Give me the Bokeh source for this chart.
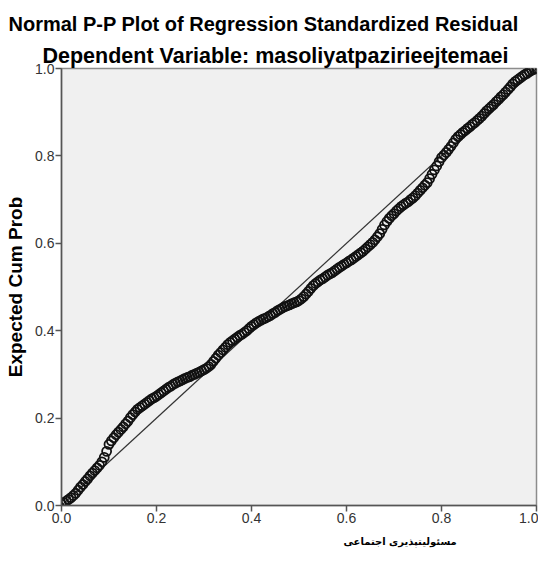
from bokeh.plotting import figure
from bokeh.models import Title, FixedTicker, PrintfTickFormatter, Range1d
from bokeh.embed import file_html
from bokeh.resources import INLINE

title_line1 = "Normal P-P Plot of Regression Standardized Residual"
title_line2 = "Dependent Variable: masoliyatpazirieejtemaei"
x_label = "مسئولیتپذیری اجتماعی"
y_label = "Expected Cum Prob"
tick_values = [0.0, 0.2, 0.4, 0.6, 0.8, 1.0]
diagonal_x = [0.0, 1.0]
diagonal_y = [0.0, 1.0]

observed_cum_prob = [
    0.000, 0.005, 0.010, 0.015, 0.020, 0.025, 0.030, 0.035, 0.040, 0.045,
    0.050, 0.055, 0.060, 0.065, 0.070, 0.075, 0.080, 0.085, 0.090, 0.095,
    0.100, 0.105, 0.110, 0.115, 0.120, 0.125, 0.130, 0.135, 0.140, 0.145,
    0.150, 0.155, 0.160, 0.165, 0.170, 0.175, 0.180, 0.185, 0.190, 0.195,
    0.200, 0.205, 0.210, 0.215, 0.220, 0.225, 0.230, 0.235, 0.240, 0.245,
    0.250, 0.255, 0.260, 0.265, 0.270, 0.275, 0.280, 0.285, 0.290, 0.295,
    0.300, 0.305, 0.310, 0.315, 0.320, 0.325, 0.330, 0.335, 0.340, 0.345,
    0.350, 0.355, 0.360, 0.365, 0.370, 0.375, 0.380, 0.385, 0.390, 0.395,
    0.400, 0.405, 0.410, 0.415, 0.420, 0.425, 0.430, 0.435, 0.440, 0.445,
    0.450, 0.455, 0.460, 0.465, 0.470, 0.475, 0.480, 0.485, 0.490, 0.495,
    0.500, 0.505, 0.510, 0.515, 0.520, 0.525, 0.530, 0.535, 0.540, 0.545,
    0.550, 0.555, 0.560, 0.565, 0.570, 0.575, 0.580, 0.585, 0.590, 0.595,
    0.600, 0.605, 0.610, 0.615, 0.620, 0.625, 0.630, 0.635, 0.640, 0.645,
    0.650, 0.655, 0.660, 0.665, 0.670, 0.675, 0.680, 0.685, 0.690, 0.695,
    0.700, 0.705, 0.710, 0.715, 0.720, 0.725, 0.730, 0.735, 0.740, 0.745,
    0.750, 0.755, 0.760, 0.765, 0.770, 0.775, 0.780, 0.785, 0.790, 0.795,
    0.800, 0.805, 0.810, 0.815, 0.820, 0.825, 0.830, 0.835, 0.840, 0.845,
    0.850, 0.855, 0.860, 0.865, 0.870, 0.875, 0.880, 0.885, 0.890, 0.895,
    0.900, 0.905, 0.910, 0.915, 0.920, 0.925, 0.930, 0.935, 0.940, 0.945,
    0.950, 0.955, 0.960, 0.965, 0.970, 0.975, 0.980, 0.985, 0.990, 0.995,
    1.000,
]
expected_cum_prob = [
    0.003, 0.006, 0.010, 0.014, 0.018, 0.023, 0.028, 0.035, 0.042, 0.048,
    0.055, 0.061, 0.068, 0.074, 0.080, 0.086, 0.092, 0.100, 0.110, 0.124,
    0.140, 0.148, 0.155, 0.162, 0.168, 0.174, 0.180, 0.187, 0.193, 0.201,
    0.208, 0.214, 0.220, 0.224, 0.228, 0.232, 0.236, 0.240, 0.244, 0.247,
    0.250, 0.254, 0.258, 0.262, 0.266, 0.270, 0.273, 0.277, 0.280, 0.283,
    0.285, 0.288, 0.291, 0.293, 0.295, 0.298, 0.300, 0.303, 0.305, 0.308,
    0.311, 0.314, 0.318, 0.323, 0.330, 0.337, 0.344, 0.350, 0.356, 0.362,
    0.368, 0.373, 0.377, 0.381, 0.385, 0.389, 0.392, 0.396, 0.400, 0.405,
    0.410, 0.414, 0.418, 0.421, 0.424, 0.427, 0.429, 0.432, 0.435, 0.439,
    0.442, 0.446, 0.449, 0.452, 0.455, 0.457, 0.459, 0.462, 0.464, 0.466,
    0.469, 0.473, 0.478, 0.484, 0.490, 0.497, 0.503, 0.508, 0.512, 0.516,
    0.519, 0.523, 0.527, 0.530, 0.533, 0.537, 0.541, 0.545, 0.548, 0.552,
    0.555, 0.559, 0.562, 0.566, 0.570, 0.574, 0.578, 0.582, 0.587, 0.592,
    0.597, 0.602, 0.608, 0.615, 0.622, 0.632, 0.642, 0.650, 0.657, 0.663,
    0.668, 0.674, 0.679, 0.684, 0.688, 0.692, 0.695, 0.700, 0.704, 0.709,
    0.715, 0.721, 0.727, 0.733, 0.739, 0.748, 0.758, 0.768, 0.777, 0.787,
    0.796, 0.802, 0.808, 0.815, 0.822, 0.830, 0.838, 0.844, 0.849, 0.854,
    0.858, 0.863, 0.867, 0.872, 0.876, 0.881, 0.886, 0.891, 0.897, 0.903,
    0.908, 0.913, 0.918, 0.924, 0.929, 0.935, 0.940, 0.946, 0.952, 0.958,
    0.965, 0.970, 0.974, 0.978, 0.982, 0.986, 0.989, 0.993, 0.996, 0.998,
    1.000,
]

p = figure(width=538, height=555, output_backend="svg", toolbar_location=None,
           x_range=Range1d(0, 1), y_range=Range1d(0, 1),
           min_border_left=61, min_border_right=2, min_border_top=68, min_border_bottom=50,
           title=title_line1)
p.title.align = "left"
p.title.offset = -53
p.title.text_font = "Liberation Sans"
p.title.text_font_size = "20px"
p.title.text_font_style = "bold"
p.title.text_color = "#000000"
p.title.standoff = 11

sub = Title(text=title_line2, align="left", offset=-19, text_font="Liberation Sans",
            text_font_size="21.5px", text_font_style="bold", text_color="#000000",
            standoff=2)
p.add_layout(sub, "above")

bottom_title = Title(text=x_label, align="left", offset=282, text_font="DejaVu Sans",
                     text_font_size="10px", text_font_style="bold", text_color="#000000",
                     standoff=17)
p.add_layout(bottom_title, "below")

p.background_fill_color = "#F0F0F0"
p.border_fill_color = "#FFFFFF"
p.outline_line_color = "#8C8C8C"
p.outline_line_width = 1.5
p.xgrid.visible = False
p.ygrid.visible = False

for ax in (p.xaxis[0], p.yaxis[0]):
    ax.ticker = FixedTicker(ticks=tick_values)
    ax.formatter = PrintfTickFormatter(format="%.1f")
    ax.axis_line_color = "#555555"
    ax.axis_line_width = 1.5
    ax.major_tick_line_color = "#555555"
    ax.major_tick_line_width = 1.5
    ax.major_tick_out = 6
    ax.major_tick_in = 0
    ax.minor_tick_line_color = None
    ax.major_label_text_font = "Liberation Sans"
    ax.major_label_text_font_size = "14px"
    ax.major_label_text_color = "#333333"
    ax.major_label_standoff = 1

p.yaxis.axis_label = y_label
p.yaxis.axis_label_text_font = "Liberation Sans"
p.yaxis.axis_label_text_font_size = "19px"
p.yaxis.axis_label_text_font_style = "bold"
p.yaxis.axis_label_text_color = "#000000"
p.yaxis.axis_label_standoff = 6

p.line(diagonal_x, diagonal_y, line_color="#333333", line_width=1.2)
p.scatter(observed_cum_prob, expected_cum_prob, marker="circle", size=9,
          fill_color=None, line_color="#111111", line_width=1.8)

open("out.html", "w").write(file_html(p, INLINE))
